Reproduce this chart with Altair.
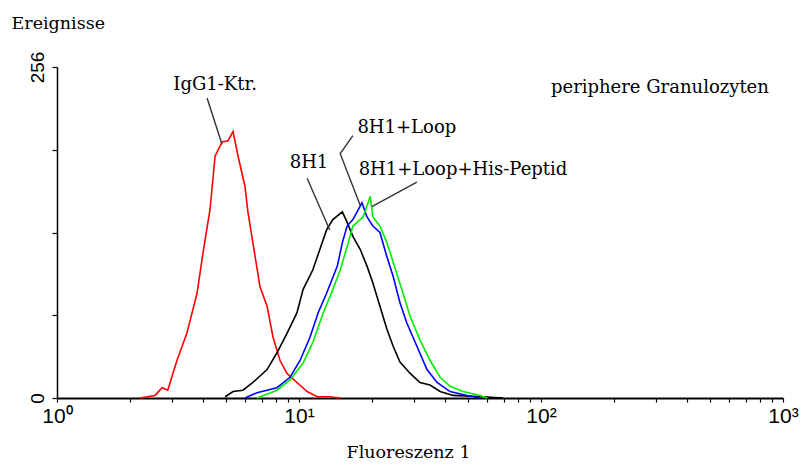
import altair as alt
import pandas as pd

# ---- data ----
red_fl = [2.20, 2.54, 2.72, 2.87, 3.13, 3.44, 3.79, 4.01, 4.29, 4.50, 4.81, 5.09, 5.34, 5.60, 5.98, 6.15, 6.45, 6.90, 7.38, 7.81, 8.35, 8.92, 9.81, 10.8, 11.9, 13.4, 14.8]
red_ct = [0, 2, 8, 6, 29, 50, 81, 112, 146, 187, 198, 199, 206, 187, 164, 144, 120, 86, 71, 47, 29, 19, 12, 5, 1, 1, 0]

black_fl = [4.95, 5.34, 5.87, 6.45, 7.38, 8.11, 8.92, 9.81, 10.4, 11.4, 12.2, 13.0, 13.8, 15.1, 15.8, 16.7, 17.9, 19.1, 20.2, 21.6, 23.1, 24.5, 26.1, 28.8, 31.6, 34.8, 38.3, 43.3, 57.6, 69.7]
black_ct = [1, 5, 6, 12, 22, 35, 50, 66, 84, 99, 115, 130, 138, 144, 136, 125, 115, 102, 89, 71, 53, 40, 28, 19, 12, 10, 5, 2, 1, 0]

blue_fl = [5.98, 6.70, 8.11, 9.18, 10.1, 11.1, 12.0, 13.0, 14.4, 15.1, 15.8, 16.7, 18.2, 19.1, 20.2, 21.6, 23.1, 24.5, 26.1, 27.9, 30.7, 33.8, 37.2, 42.1, 49.5, 56.0]
blue_ct = [0, 4, 8, 16, 29, 47, 66, 81, 102, 120, 133, 138, 151, 140, 133, 128, 109, 94, 74, 58, 40, 22, 12, 5, 2, 0]

green_fl = [6.70, 8.11, 9.18, 10.4, 11.4, 12.6, 13.8, 14.8, 15.8, 16.7, 18.4, 19.7, 20.2, 21.6, 23.1, 24.5, 26.9, 28.8, 31.6, 34.8, 38.3, 42.1, 47.6, 56.0, 59.8]
green_ct = [0, 6, 14, 27, 43, 66, 84, 99, 117, 133, 140, 156, 140, 133, 120, 105, 81, 63, 45, 29, 16, 9, 5, 2, 0]

series_names = ["IgG1-Ktr.", "8H1", "8H1+Loop", "8H1+Loop+His-Peptid"]
series_colors = ["#ff0000", "#000000", "#0000ff", "#00ee00"]

label_text = ["IgG1-Ktr.", "8H1", "8H1+Loop", "8H1+Loop+His-Peptid", "periphere Granulozyten"]
label_fl = [4.50, 11.0, 27.9, 47.6, 310]
label_ct = [242, 182, 209, 176, 240]

leader_id = [0, 0, 1, 1, 2, 2, 2, 3, 3]
leader_fl = [4.17, 4.81, 10.8, 13.4, 16.7, 14.8, 17.9, 30.7, 20.0]
leader_ct = [232, 196, 170, 130, 203, 189, 149, 167, 148]

x_ticks = [1, 2, 3, 4, 5, 6, 7, 8, 9, 10, 20, 30, 40, 50, 60, 70, 80, 90,
           100, 200, 300, 400, 500, 600, 700, 800, 900, 1000]
y_ticks = [0, 64, 128, 192, 256]

# ---- tables ----
rows = []
for name, fl, ct in zip(series_names, [red_fl, black_fl, blue_fl, green_fl],
                        [red_ct, black_ct, blue_ct, green_ct]):
    for i, (f, c) in enumerate(zip(fl, ct)):
        rows.append({"series": name, "fl": f, "ct": c, "i": i})
curves = pd.DataFrame(rows)

labels = pd.DataFrame({"text": label_text, "fl": label_fl, "ct": label_ct})
leaders = pd.DataFrame({"id": leader_id, "fl": leader_fl, "ct": leader_ct,
                        "i": list(range(len(leader_id)))})

xscale = alt.Scale(type="log", domain=[1, 1000], nice=False)
yscale = alt.Scale(domain=[0, 256], nice=False, zero=True)

x_axis = alt.Axis(
    values=x_ticks,
    labelExpr="datum.value == 1 ? '10\u2070' : datum.value == 10 ? '10\u00b9' : datum.value == 100 ? '10\u00b2' : datum.value == 1000 ? '10\u00b3' : ''",
    labelFlush=False, labelOverlap=False, labelFont="Liberation Sans",
    labelFontSize=21, labelColor="black", labelPadding=3,
    tickSize=4, tickColor="black", tickWidth=1.2,
    domainColor="black", domainWidth=2, grid=False,
    title="Fluoreszenz 1", titleFont="DejaVu Serif", titleFontSize=17.5,
    titleFontWeight="normal", titleColor="black",
    titleX=351, titleY=54, titleAnchor="middle", titleAlign="center", titleBaseline="middle",
)
y_axis = alt.Axis(
    values=y_ticks,
    labelExpr="datum.value == 0 || datum.value == 256 ? datum.label : ''",
    labelAngle=270, labelAlign="center", labelBaseline="bottom",
    labelFont="Liberation Sans", labelFontSize=19, labelColor="black",
    labelPadding=5, labelOverlap=False, labelFlush=False,
    tickSize=5, tickColor="black", tickWidth=1.2,
    domainColor="black", domainWidth=1.5, grid=False,
    title="Ereignisse", titleFont="DejaVu Serif", titleFontSize=17.5,
    titleFontWeight="normal", titleColor="black", titleAngle=0,
    titleX=-46, titleY=-44, titleAlign="left", titleBaseline="middle",
)

lines = alt.Chart(curves).mark_line(strokeWidth=1.6).encode(
    x=alt.X("fl:Q", scale=xscale, axis=x_axis),
    y=alt.Y("ct:Q", scale=yscale, axis=y_axis),
    color=alt.Color("series:N", scale=alt.Scale(domain=series_names, range=series_colors), legend=None),
    order="i:Q",
)

lead = alt.Chart(leaders).mark_line(color="#333333", strokeWidth=1.4).encode(
    x=alt.X("fl:Q", scale=xscale),
    y=alt.Y("ct:Q", scale=yscale),
    detail="id:N",
    order="i:Q",
)

texts = alt.Chart(labels).mark_text(font="DejaVu Serif", fontSize=18, color="black",
                                    align="center", baseline="middle").encode(
    x=alt.X("fl:Q", scale=xscale),
    y=alt.Y("ct:Q", scale=yscale),
    text="text:N",
)

chart = alt.layer(lines, lead, texts).properties(
    width=726, height=331,
    autosize=alt.AutoSizeParams(type="none"),
    padding={"left": 49, "top": 59, "right": 17, "bottom": 62},
    background="white",
).configure_view(strokeWidth=0)

chart.save("out.html", embed_options={"renderer": "svg", "actions": False})
